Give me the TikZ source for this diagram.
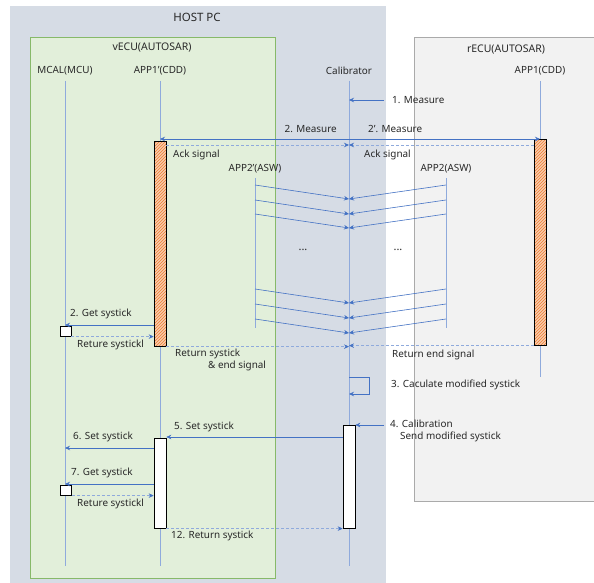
\documentclass[tikz,border=0pt]{standalone}
\usepackage{fontspec}
\setmainfont{Noto Sans}
\usetikzlibrary{arrows.meta,patterns}
\definecolor{hostc}{RGB}{214,220,229}
\definecolor{vfill}{RGB}{226,239,218}
\definecolor{vdraw}{RGB}{135,185,105}
\definecolor{rfill}{RGB}{242,242,242}
\definecolor{rdraw}{RGB}{170,170,170}
\definecolor{lblue}{RGB}{68,114,196}
\definecolor{llife}{RGB}{143,170,220}
\definecolor{ofill}{RGB}{248,203,173}
\definecolor{ohatch}{RGB}{237,125,49}
\definecolor{txt}{RGB}{40,40,40}
\begin{document}
\begin{tikzpicture}[x=1pt,y=-1pt,font=\fontsize{9.9}{11.5}\selectfont,text=txt,
 lbl/.style={inner sep=0pt},
 lw/.style={inner sep=0pt,anchor=west},
 le/.style={inner sep=0pt,anchor=east},
 life/.style={draw=llife,line width=0.8pt},
 msg/.style={draw=lblue,line width=0.6pt,-{Stealth[length=5pt,width=4.5pt,color=lblue]}},
 ret/.style={msg,draw=llife,dash pattern=on 3pt off 2pt},
 obar/.style={draw=black,line width=0.6pt,preaction={fill=ofill},pattern=north east lines,pattern color=ohatch,minimum width=12pt,inner sep=0pt,anchor=north},
 wbar/.style={draw=black,line width=0.6pt,fill=white,minimum width=12pt,inner sep=0pt,anchor=north},
 wbox/.style={draw=black,line width=0.6pt,fill=white,minimum width=11pt,minimum height=10pt,inner sep=0pt,anchor=north}]
\useasboundingbox (0,0) rectangle (594,583);
\fill[white] (0,0) rectangle (594,583);
% containers
\fill[hostc] (10,6) rectangle (386,583);
\filldraw[fill=vfill,draw=vdraw,line width=0.8pt] (30,37) rectangle (275,578);
\filldraw[fill=rfill,draw=rdraw,line width=0.8pt] (414,37) rectangle (600,501);
\node[lbl,font=\fontsize{11.5}{13}\selectfont] (host) at (197,17) {HOST PC};
\node[lbl,font=\fontsize{10.5}{12}\selectfont] (vecu) at (152,48) {vECU(AUTOSAR)};
\node[lbl,font=\fontsize{10.5}{12}\selectfont] (recu) at (506,50) {rECU(AUTOSAR)};
% lifeline heads
\node[lbl] (mcL) at (65,71) {MCAL(MCU)};
\node[lbl] (apL) at (160,71) {APP1'(CDD)};
\node[lbl] (calL) at (349,71) {Calibrator};
\node[lbl] (arL) at (540,71) {APP1(CDD)};
\node[lbl] (a2lL) at (255,169) {APP2'(ASW)};
\node[lbl] (a2rL) at (446,169) {APP2(ASW)};
\coordinate (mc) at (65,81);   \coordinate (mcE) at (65,566);
\coordinate (ap) at (160,81);  \coordinate (apE) at (160,566);
\coordinate (cal) at (349,81); \coordinate (calE) at (349,566);
\coordinate (ar) at (540,81);  \coordinate (arE) at (540,377);
\coordinate (a2l) at (255,178); \coordinate (a2lE) at (255,328);
\coordinate (a2r) at (446,178); \coordinate (a2rE) at (446,328);
\draw[life] (mc) -- (mcE);
\draw[life] (ap) -- (apE);
\draw[life] (cal) -- (calE);
\draw[life] (ar) -- (arE);
\draw[life] (a2l) -- (a2lE);
\draw[life] (a2r) -- (a2rE);
% activation bars
\node[obar,minimum height=205pt] (b1) at (160,141) {};
\node[obar,minimum height=206pt] (b2) at (540,139) {};
\node[wbox] (bx1) at (65.5,326) {};
\node[wbar,minimum height=90pt] (b3) at (160,438) {};
\node[wbox] (bx2) at (66,485) {};
\node[wbar,minimum height=103pt] (b4) at (349,425) {};
% 1. Measure
\coordinate (m1s) at (384,100);
\draw[msg] (m1s) -- (cal |- m1s);
\node[lw] (t1) at (392,100) {1. Measure};
% 2. Measure / 2'. Measure
\draw[msg] (cal |- 0,139) -- (ap |- 0,139);
\draw[msg] (cal |- 0,139) -- (ar |- 0,139);
\node[le] (t2) at (337,129) {2. Measure};
\node[lw] (t2b) at (368,129) {2'. Measure};
% Ack
\draw[ret] (b1.east |- 0,145) -- (cal |- 0,145);
\draw[ret] (b2.west |- 0,145) -- (cal |- 0,145);
\node[lw] (ack1) at (173,155) {Ack signal};
\node[lw] (ack2) at (364,155) {Ack signal};
% APP2 signals
\foreach \y [evaluate=\y as \z using \y+14] in {185,200,214,289,304,319}{
  \draw[msg] (a2l |- 0,\y) -- (cal |- 0,\z);
  \draw[msg] (a2r |- 0,\y) -- (cal |- 0,\z);
}
\node[lbl,font=\fontsize{11}{12}\bfseries] (dots1) at (303,250) {...};
\node[lbl,font=\fontsize{11}{12}\bfseries] (dots2) at (398,250) {...};
% Get systick (first)
\draw[msg] (b1.west |- 0,325) -- (mc |- 0,325);
\node[lw] (g1) at (70,314) {2. Get systick};
\draw[ret] (bx1.south east) -- (b1.west |- bx1.south);
\node[lw] (r1) at (77,345) {Reture systickl};
% return end signals
\draw[ret] (b1.south east) -- (cal |- b1.south);
\draw[ret] (b2.south west) -- (cal |- b2.south);
\node[lw] (r2) at (175,354) {Return systick};
\node[lw] (r2b) at (208,366) {\& end signal};
\node[lw] (r3) at (392,355) {Return end signal};
% 3. self message
\draw[msg] (cal |- 0,377) -- ++(20,0) -- ++(0,17) -- (cal |- 0,394);
\node[lw] (t3) at (391,385) {3. Caculate modified systick};
% 4. Calibration
\coordinate (m4s) at (384,425);
\draw[msg] (m4s) -- (b4.north east);
\node[lw] (t4) at (390,424) {4. Calibration};
\node[lw] (t4b) at (400,437) {Send modified systick};
% 5. Set systick
\draw[msg] (b4.west |- 0,437) -- (b3.east |- 0,437);
\node[lw] (t5) at (174,427) {5. Set systick};
% 6. Set systick
\draw[msg] (b3.west |- 0,448) -- (mc |- 0,448);
\node[lw] (t6) at (73,437) {6. Set systick};
% 7. Get systick
\draw[msg] (b3.west |- 0,484) -- (mc |- 0,484);
\node[lw] (t7) at (71,473) {7. Get systick};
\draw[ret] (bx2.south east) -- (b3.west |- bx2.south);
\node[lw] (r4) at (77,504) {Reture systickl};
% 12. Return systick
\draw[ret] (b3.south east) -- (b4.south west);
\node[lw] (t12) at (171,536) {12. Return systick};
\end{tikzpicture}
\end{document}
